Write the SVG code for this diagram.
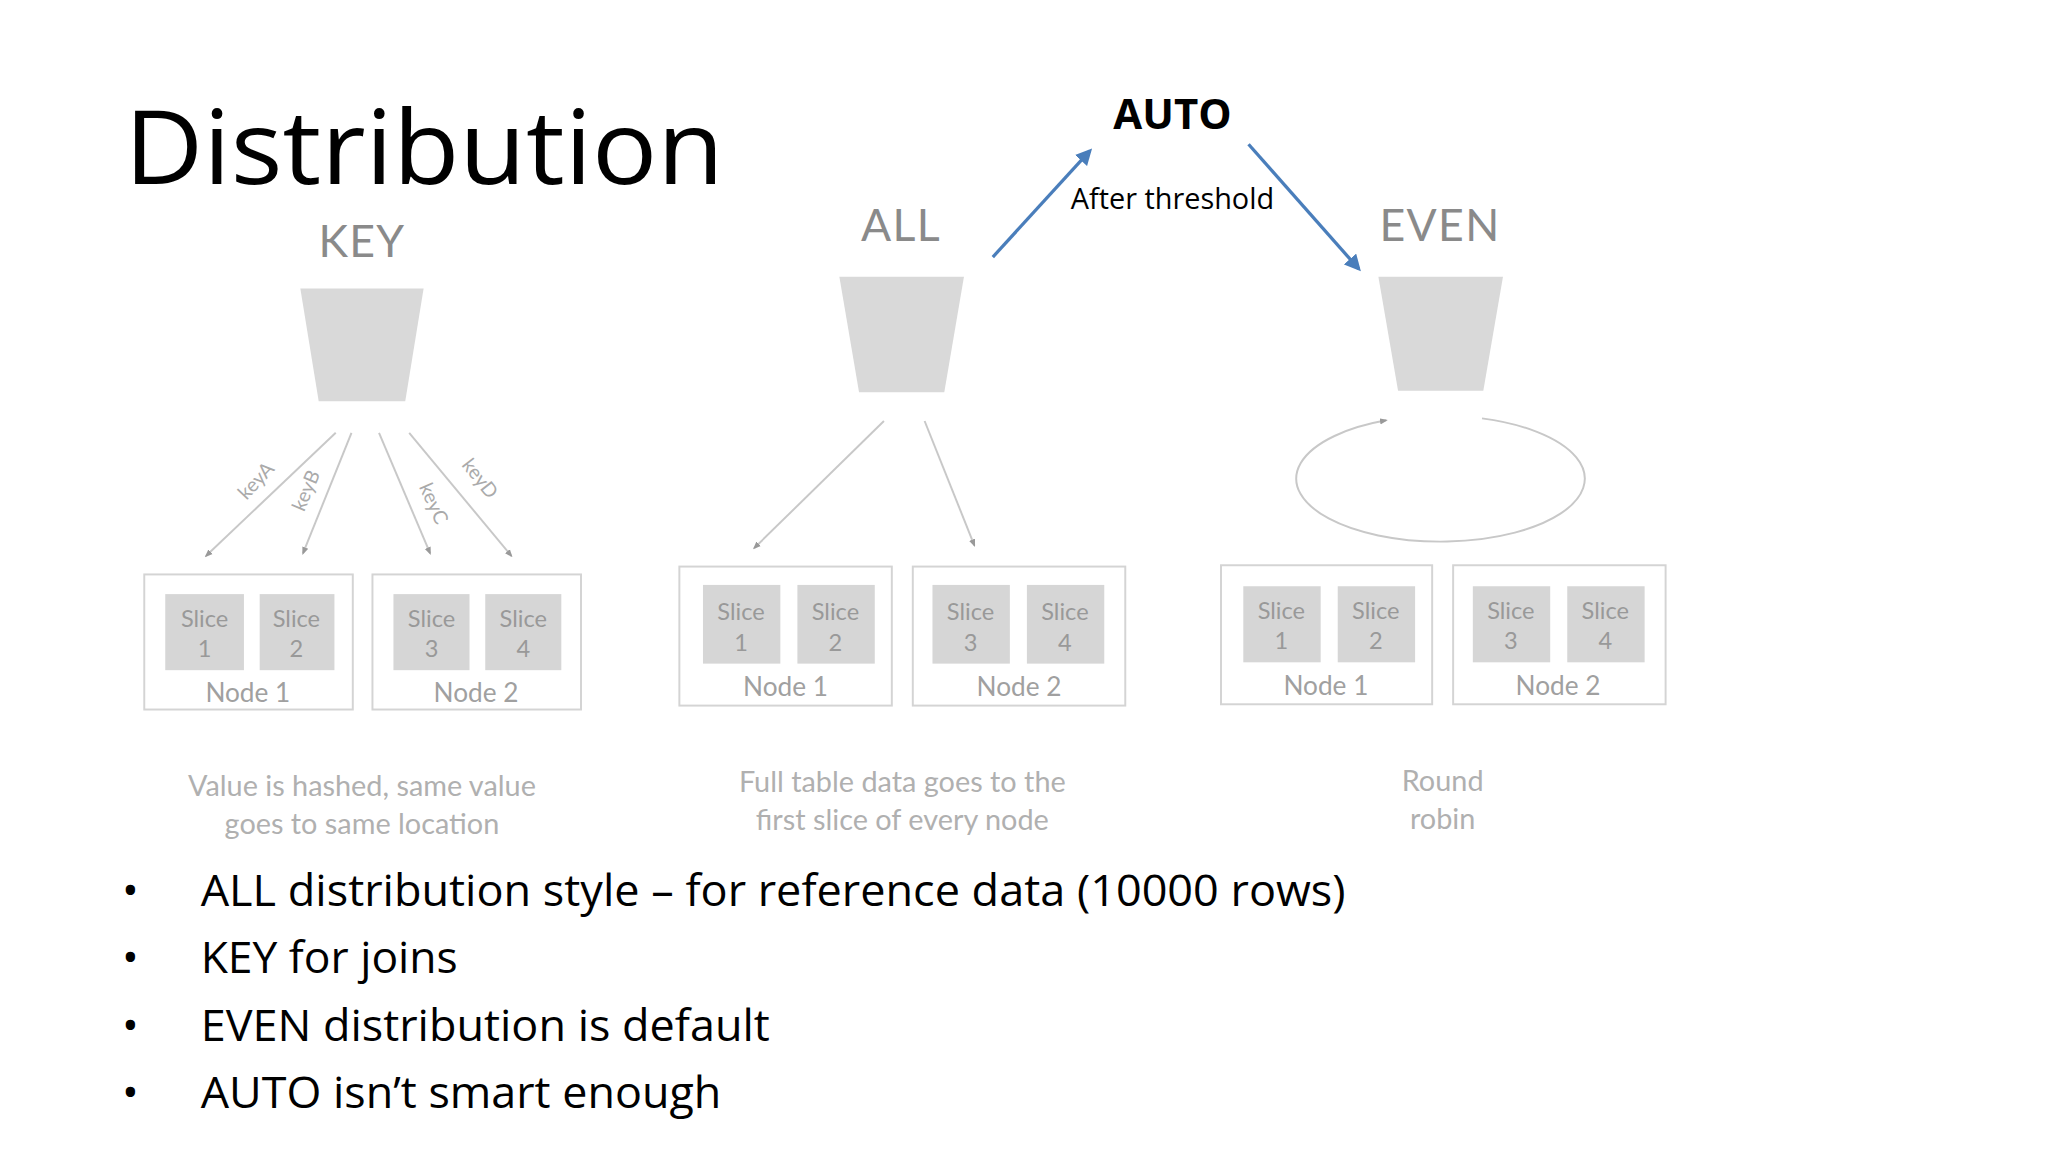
<svg xmlns="http://www.w3.org/2000/svg" width="2048" height="1152" viewBox="0 0 2048 1152">
<defs>
<marker id="ab" viewBox="0 0 10 10" refX="8" refY="5" markerWidth="5" markerHeight="5" orient="auto"><path d="M0,0L10,5L0,10z" fill="#4a7ebb"/></marker>
<marker id="ag" viewBox="0 0 10 10" refX="8" refY="5" markerWidth="4" markerHeight="4" orient="auto"><path d="M0,1L10,5L0,9z" fill="#999"/></marker>
<style>
.t{font-family:"Open Sans","Liberation Sans",sans-serif}
.h{font-family:"Lato","Liberation Sans",sans-serif;fill:#8a8a8a;font-size:34px;text-anchor:middle;letter-spacing:1px}
.f{fill:#d9d9d9}
.nb{fill:#fff;stroke:#d4d4d4;stroke-width:1.5}
.sl{fill:#d6d6d6}
.st{font-family:"Lato","Liberation Sans",sans-serif;fill:#999;font-size:18px;text-anchor:middle}
.nl{font-family:"Lato","Liberation Sans",sans-serif;fill:#a0a0a0;font-size:20px;text-anchor:middle}
.cap{font-family:"Lato","Liberation Sans",sans-serif;fill:#b0b0b0;font-size:22px;text-anchor:middle}
.gl{stroke:#c8c8c8;stroke-width:1.5;fill:none;marker-end:url(#ag)}
.kl{font-family:"Lato","Liberation Sans",sans-serif;fill:#aaa;font-size:15px;text-anchor:middle}
.bl{font-family:"Open Sans","Liberation Sans",sans-serif;font-size:34px;fill:#000}
</style>
</defs>
<rect width="2048" height="1152" fill="#fff"/>
<g transform="scale(1.3115)">
<g id="title"><text class="t" x="95" y="140" font-size="78" textLength="457" lengthAdjust="spacingAndGlyphs">Distribution</text></g>
<g id="auto"><text class="t" x="894" y="98" font-size="32" font-weight="bold" text-anchor="middle">AUTO</text></g>
<g id="key">
<text class="h" x="276" y="196">KEY</text>
<polygon class="f" points="229,220 323,220 309,306 243,306"/>
</g>
<g id="all">
<text class="h" x="687" y="184">ALL</text>
<polygon class="f" points="640,211 735,211 720,299 655,299"/>
</g>
<g id="even">
<text class="h" x="1098" y="184">EVEN</text>
<polygon class="f" points="1051,211 1146,211 1131,298 1066,298"/>
</g>
<g id="key-nodes">
<rect class="nb" x="110" y="438" width="159" height="103"/>
<rect class="nb" x="284" y="438" width="159" height="103"/>
<rect class="sl" x="126" y="453" width="60" height="58"/><rect class="sl" x="198" y="453" width="57" height="58"/>
<rect class="sl" x="300" y="453" width="58" height="58"/><rect class="sl" x="370" y="453" width="58" height="58"/>
<text class="st" x="156" y="478">Slice</text><text class="st" x="156" y="501">1</text>
<text class="st" x="226" y="478">Slice</text><text class="st" x="226" y="501">2</text>
<text class="st" x="329" y="478">Slice</text><text class="st" x="329" y="501">3</text>
<text class="st" x="399" y="478">Slice</text><text class="st" x="399" y="501">4</text>
<text class="nl" x="189" y="535">Node 1</text><text class="nl" x="363" y="535">Node 2</text>
</g>
<g id="all-nodes">
<rect class="nb" x="518" y="432" width="162" height="106"/>
<rect class="nb" x="696" y="432" width="162" height="106"/>
<rect class="sl" x="536" y="446" width="59" height="60"/><rect class="sl" x="608" y="446" width="59" height="60"/>
<rect class="sl" x="711" y="446" width="59" height="60"/><rect class="sl" x="783" y="446" width="59" height="60"/>
<text class="st" x="565" y="473">Slice</text><text class="st" x="565" y="496">1</text>
<text class="st" x="637" y="473">Slice</text><text class="st" x="637" y="496">2</text>
<text class="st" x="740" y="473">Slice</text><text class="st" x="740" y="496">3</text>
<text class="st" x="812" y="473">Slice</text><text class="st" x="812" y="496">4</text>
<text class="nl" x="599" y="531">Node 1</text><text class="nl" x="777" y="531">Node 2</text>
</g>
<g id="even-nodes">
<rect class="nb" x="931" y="431" width="161" height="106"/>
<rect class="nb" x="1108" y="431" width="162" height="106"/>
<rect class="sl" x="948" y="447" width="59" height="58"/><rect class="sl" x="1020" y="447" width="59" height="58"/>
<rect class="sl" x="1123" y="447" width="59" height="58"/><rect class="sl" x="1195" y="447" width="59" height="58"/>
<text class="st" x="977" y="472">Slice</text><text class="st" x="977" y="495">1</text>
<text class="st" x="1049" y="472">Slice</text><text class="st" x="1049" y="495">2</text>
<text class="st" x="1152" y="472">Slice</text><text class="st" x="1152" y="495">3</text>
<text class="st" x="1224" y="472">Slice</text><text class="st" x="1224" y="495">4</text>
<text class="nl" x="1011" y="530">Node 1</text><text class="nl" x="1188" y="530">Node 2</text>
</g>
<g id="captions">
<text class="cap" x="276" y="607">Value is hashed, same value</text>
<text class="cap" x="276" y="636">goes to same location</text>
<text class="cap" x="688" y="604">Full table data goes to the</text>
<text class="cap" x="688" y="633">first slice of every node</text>
<text class="cap" x="1100" y="603">Round</text>
<text class="cap" x="1100" y="632">robin</text>
</g>
<g id="connectors">
<line x1="757" y1="196" x2="831" y2="115" stroke="#4a7ebb" stroke-width="2.5" marker-end="url(#ab)"/>
<line x1="952" y1="110" x2="1036" y2="205" stroke="#4a7ebb" stroke-width="2.5" marker-end="url(#ab)"/>
<line class="gl" x1="256" y1="330" x2="157" y2="424"/>
<line class="gl" x1="268" y1="330" x2="231" y2="422"/>
<line class="gl" x1="289" y1="330" x2="328" y2="422"/>
<line class="gl" x1="312" y1="330" x2="390" y2="424"/>
<line class="gl" x1="674" y1="321" x2="575" y2="418"/>
<line class="gl" x1="705" y1="321" x2="743" y2="416"/>
<path class="gl" d="M1130,319 A110,48 0 1 1 1057,320.5"/>
<text class="kl" transform="translate(199,370) rotate(-47)">keyA</text>
<text class="kl" transform="translate(238,376) rotate(-67)">keyB</text>
<text class="kl" transform="translate(326,386) rotate(66)">keyC</text>
<text class="kl" transform="translate(362,368) rotate(52)">keyD</text>
<text class="t" x="894" y="159" font-size="22" text-anchor="middle">After threshold</text>
</g>
<g id="bullets">
<text class="bl" x="93" y="691">•</text><text class="bl" x="153" y="691" textLength="873" lengthAdjust="spacingAndGlyphs">ALL distribution style – for reference data (10000 rows)</text>
<text class="bl" x="93" y="742">•</text><text class="bl" x="153" y="742" textLength="196" lengthAdjust="spacingAndGlyphs">KEY for joins</text>
<text class="bl" x="93" y="794">•</text><text class="bl" x="153" y="794" textLength="434" lengthAdjust="spacingAndGlyphs">EVEN distribution is default</text>
<text class="bl" x="93" y="845">•</text><text class="bl" x="153" y="845" textLength="397" lengthAdjust="spacingAndGlyphs">AUTO isn’t smart enough</text>
</g>
</g>
</svg>
